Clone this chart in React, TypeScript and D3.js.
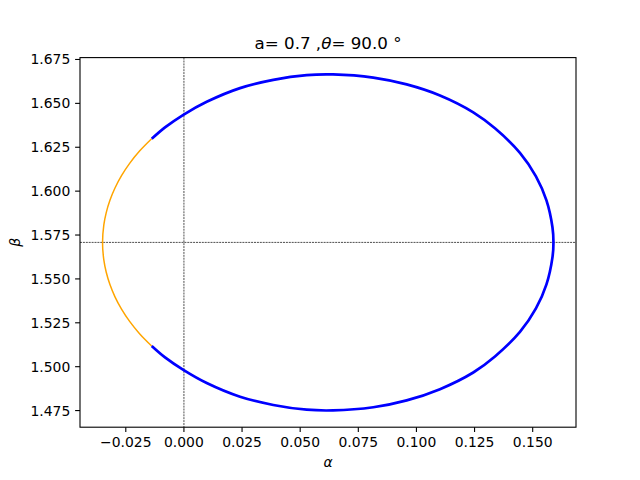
// App.tsx
import React, { useRef, useEffect } from "react";
import * as d3 from "d3";

// blue part: from the upper junction over the top, right side, bottom, back to the lower junction
const blueAlpha = [
  -0.01385, -0.00813, -0.00026, 0.0098, 0.02412, 0.03844, 0.0528, 0.06411, 0.08144, 0.0958,
  0.11012, 0.12444, 0.13377, 0.14452, 0.1514, 0.15592, 0.1585, 0.15893,
  0.1585, 0.15592, 0.1514, 0.14452, 0.13377, 0.12444, 0.11012, 0.0958, 0.08144, 0.06411,
  0.0528, 0.03844, 0.02412, 0.0098, -0.00026, -0.00813, -0.01385,
];
const blueBeta = [
  1.6298, 1.6363, 1.6435, 1.6509, 1.6587, 1.6634, 1.6661, 1.6665, 1.6647, 1.6608,
  1.6545, 1.6449, 1.6358, 1.6218, 1.6084, 1.5947, 1.5794, 1.5708,
  1.5623, 1.5469, 1.5332, 1.5198, 1.5058, 1.4967, 1.4872, 1.4808, 1.4769, 1.4751,
  1.4755, 1.4782, 1.4829, 1.4907, 1.4982, 1.5053, 1.5118,
];

// orange part: the left arc between the two junctions
const orangeAlpha = [
  -0.01389, -0.01908, -0.02335, -0.02684, -0.02965, -0.03182, -0.03341, -0.03445, -0.035,
  -0.03445, -0.03341, -0.03182, -0.02965, -0.02684, -0.02335, -0.01908, -0.01389,
];
const orangeBeta = [
  1.6298, 1.6228, 1.6158, 1.6088, 1.6018, 1.5948, 1.5878, 1.5808, 1.5708,
  1.5608, 1.5538, 1.5468, 1.5398, 1.5328, 1.5258, 1.5188, 1.5118,
];

const xTicks = [-0.025, 0, 0.025, 0.05, 0.075, 0.1, 0.125, 0.15];
const yTicks = [1.475, 1.5, 1.525, 1.55, 1.575, 1.6, 1.625, 1.65, 1.675];
const crossAlpha = 0;
const crossBeta = 1.5708;

const App = () => {
  const ref = useRef<SVGSVGElement>(null);

  useEffect(() => {
    const width = 640;
    const height = 480;
    const left = 80, right = 576, top = 57.6, bottom = 427.2;
    const font = "'DejaVu Sans', sans-serif";
    const minus = (s: string) => s.replace("-", "\u2212");

    const allA = blueAlpha.concat(orangeAlpha);
    const allB = blueBeta.concat(orangeBeta);
    const [a0, a1] = d3.extent(allA) as [number, number];
    const [b0, b1] = d3.extent(allB) as [number, number];
    const pa = (a1 - a0) * 0.05;
    const pb = (b1 - b0) * 0.05;

    const x = d3.scaleLinear().domain([a0 - pa, a1 + pa]).range([left, right]);
    const y = d3.scaleLinear().domain([b0 - pb, b1 + pb]).range([bottom, top]);

    const svg = d3.select(ref.current);
    svg.selectAll("*").remove();
    svg.append("rect").attr("width", width).attr("height", height).attr("fill", "#fff");

    svg.append("clipPath").attr("id", "plot-clip")
      .append("rect")
      .attr("x", left).attr("y", top)
      .attr("width", right - left).attr("height", bottom - top);

    const plot = svg.append("g").attr("clip-path", "url(#plot-clip)");

    // dashed cross lines
    plot.append("line")
      .attr("x1", x(crossAlpha)).attr("x2", x(crossAlpha))
      .attr("y1", top).attr("y2", bottom)
      .attr("stroke", "#000").attr("stroke-width", 0.7)
      .attr("stroke-dasharray", "2,0.9");
    plot.append("line")
      .attr("x1", left).attr("x2", right)
      .attr("y1", y(crossBeta)).attr("y2", y(crossBeta))
      .attr("stroke", "#000").attr("stroke-width", 0.7)
      .attr("stroke-dasharray", "2,0.9");

    const line = d3.line().curve(d3.curveCatmullRom.alpha(0.5));

    const bluePts = blueAlpha.map((a, i) => [x(a), y(blueBeta[i])] as [number, number]);
    const orangePts = orangeAlpha.map((a, i) => [x(a), y(orangeBeta[i])] as [number, number]);

    plot.append("path")
      .attr("d", line(orangePts))
      .attr("fill", "none")
      .attr("stroke", "orange")
      .attr("stroke-width", 1.5);

    plot.append("path")
      .attr("d", line(bluePts))
      .attr("fill", "none")
      .attr("stroke", "blue")
      .attr("stroke-width", 2.7);

    // frame
    svg.append("rect")
      .attr("x", left).attr("y", top)
      .attr("width", right - left).attr("height", bottom - top)
      .attr("fill", "none").attr("stroke", "#000").attr("stroke-width", 1.1);

    // x axis
    const xAxis = svg.append("g");
    xTicks.forEach(t => {
      const px = x(t);
      xAxis.append("line")
        .attr("x1", px).attr("x2", px)
        .attr("y1", bottom).attr("y2", bottom + 4.9)
        .attr("stroke", "#000").attr("stroke-width", 1.1);
      xAxis.append("text")
        .attr("x", px).attr("y", bottom + 9.7)
        .attr("dy", "0.76em")
        .attr("text-anchor", "middle")
        .style("font-family", font).style("font-size", "13.9px")
        .text(minus(t.toFixed(3)));
    });

    // y axis
    const yAxis = svg.append("g");
    yTicks.forEach(t => {
      const py = y(t);
      yAxis.append("line")
        .attr("x1", left - 4.9).attr("x2", left)
        .attr("y1", py).attr("y2", py)
        .attr("stroke", "#000").attr("stroke-width", 1.1);
      yAxis.append("text")
        .attr("x", left - 9.7).attr("y", py)
        .attr("dy", "0.36em")
        .attr("text-anchor", "end")
        .style("font-family", font).style("font-size", "13.9px")
        .text(minus(t.toFixed(3)));
    });

    // axis labels
    svg.append("text")
      .attr("x", (left + right) / 2).attr("y", 467)
      .attr("text-anchor", "middle")
      .style("font-family", font).style("font-size", "13.9px")
      .style("font-style", "italic")
      .text("α");

    svg.append("text")
      .attr("transform", `translate(20, ${(top + bottom) / 2}) rotate(-90)`)
      .attr("text-anchor", "middle")
      .style("font-family", font).style("font-size", "13.9px")
      .style("font-style", "italic")
      .text("β");

    // title
    const title = svg.append("text")
      .attr("x", (left + right) / 2).attr("y", top - 8.3)
      .attr("text-anchor", "middle")
      .style("font-family", font).style("font-size", "16.7px");
    title.append("tspan").text("a= 0.7 ,");
    title.append("tspan").style("font-style", "italic").text("θ");
    title.append("tspan").text("= 90.0 °");
  }, []);

  return (
    <svg
      ref={ref}
      width={640}
      height={480}
      style={{ position: "absolute", left: 0, top: 0, display: "block" }}
    />
  );
};

export default App;
